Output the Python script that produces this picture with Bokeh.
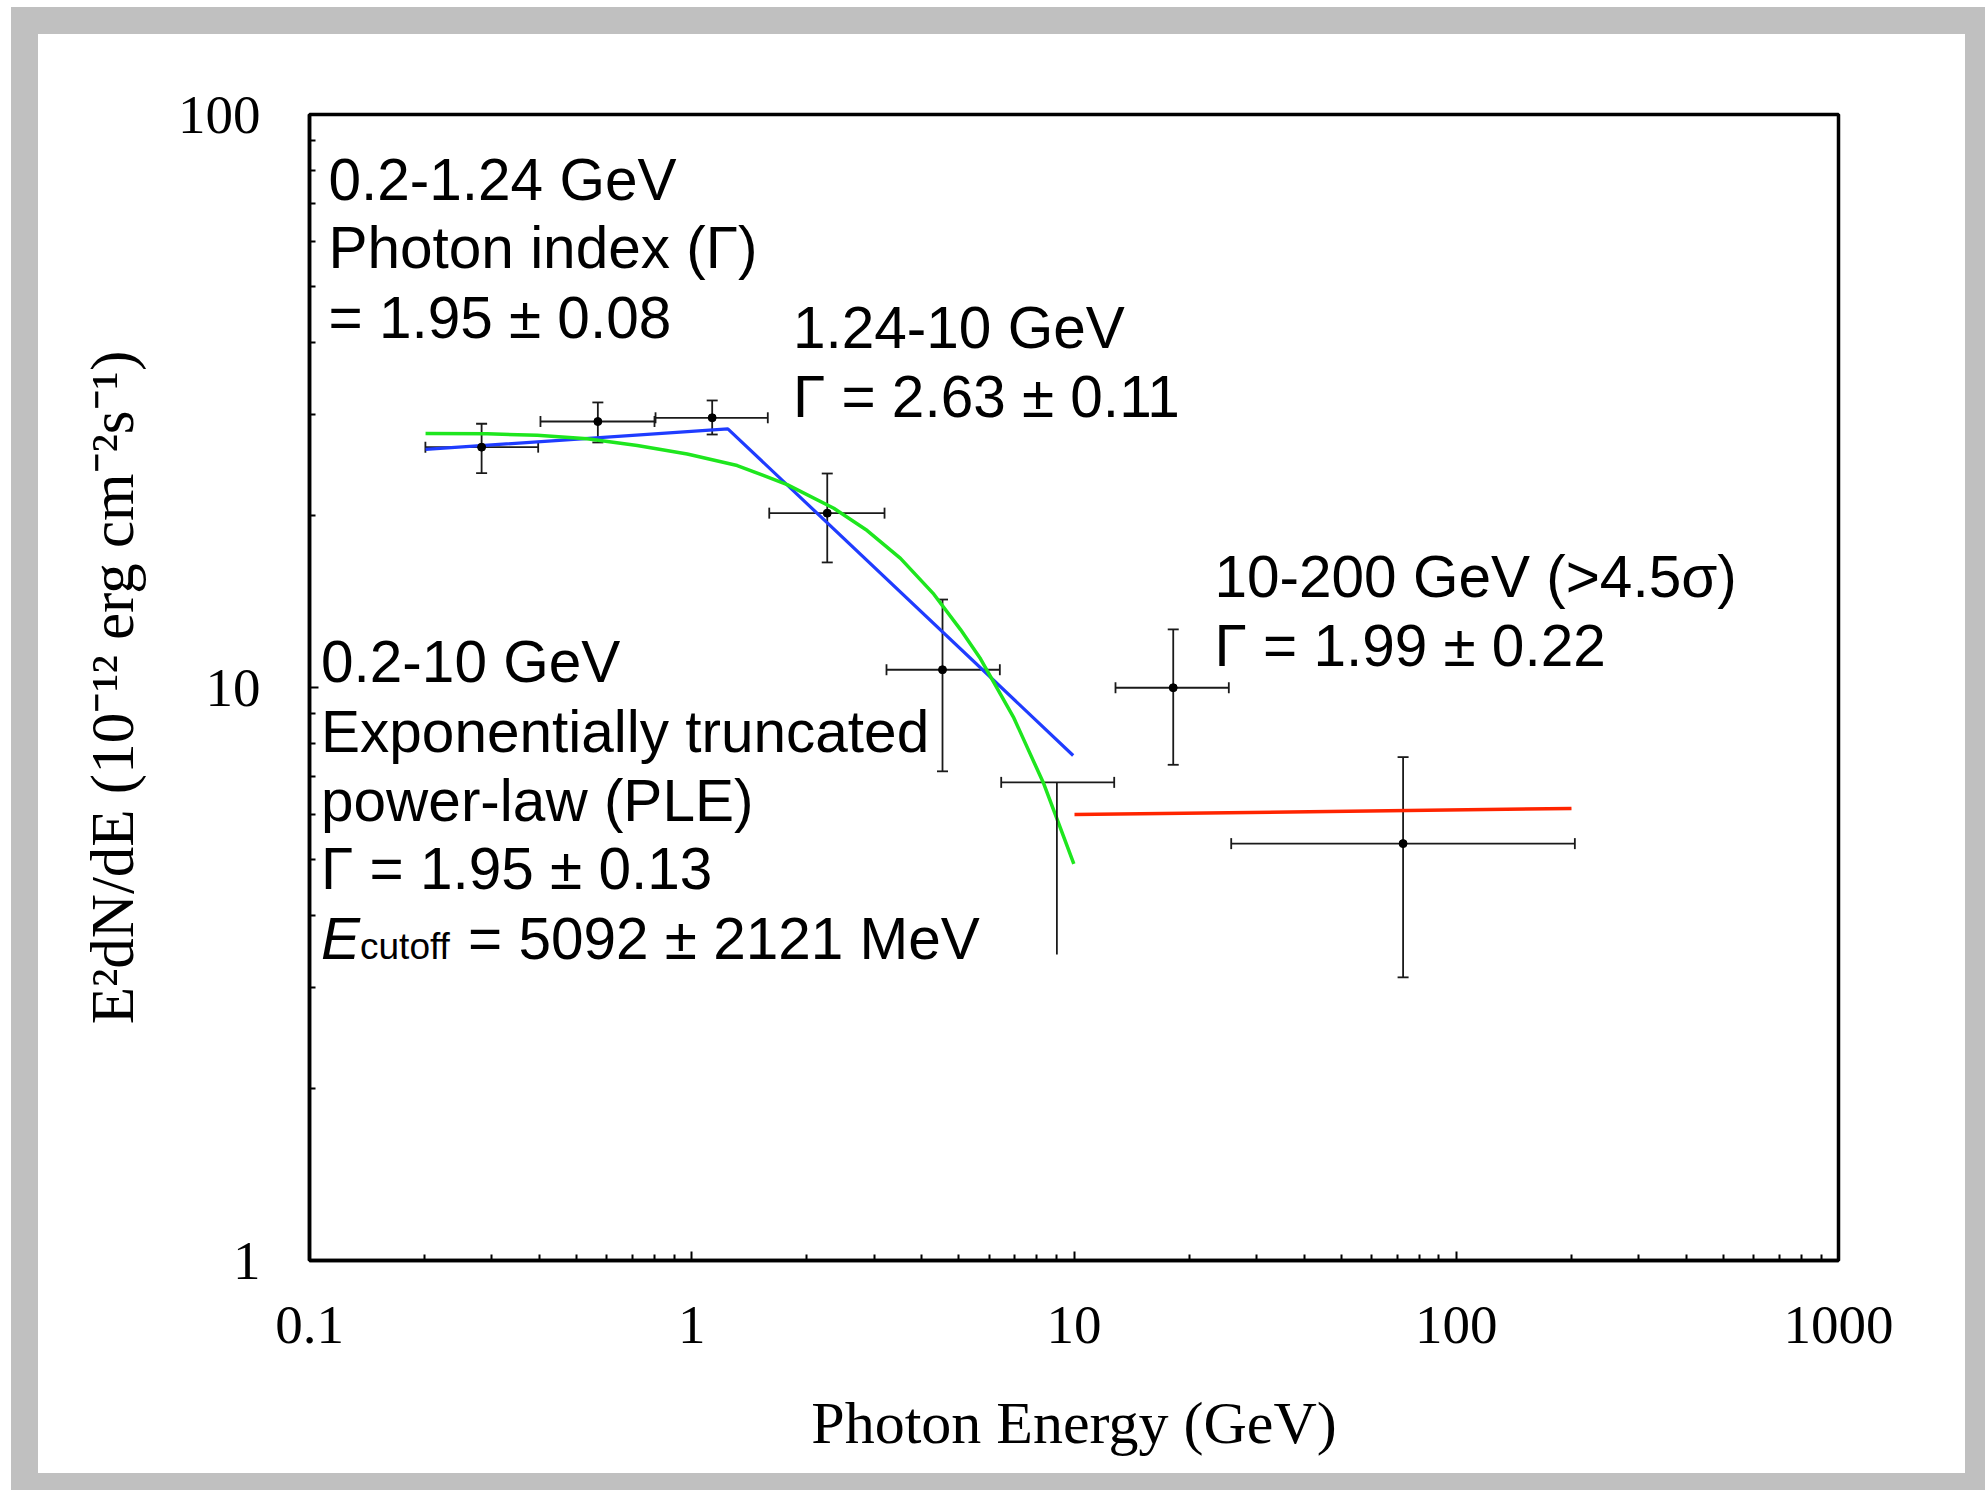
from bokeh.plotting import figure
from bokeh.models import (FixedTicker, Whisker, TeeHead, ColumnDataSource,
                          Range1d, CustomJSTickFormatter)
from bokeh.core.properties import value
from bokeh.embed import file_html
from bokeh.resources import INLINE

# ---------------- data ----------------
bin_center = [0.282, 0.568, 1.131, 2.262, 4.529, 9.02, 18.18, 72.6]
bin_low    = [0.201, 0.402, 0.804, 1.595, 3.232, 6.45, 12.84, 25.78]
bin_high   = [0.3965, 0.799, 1.581, 3.194, 6.397, 12.74, 25.41, 204.3]
flux       = [26.27, 29.12, 29.56, 20.15, 10.74, 6.83, 9.99, 5.34]
flux_low   = [23.66, 26.77, 27.64, 16.53, 7.14, 3.42, 7.33, 3.12]
flux_high  = [28.86, 31.44, 31.69, 23.63, 14.24, 6.83, 12.63, 7.56]
has_dot    = [True, True, True, True, True, False, True, True]

# broken power law (blue)
bpl_energy = [0.2012, 1.243, 9.95]
bpl_flux   = [26.03, 28.28, 7.61]

# exponentially truncated power law (green)
ple_energy = [0.2012, 0.2916, 0.3942, 0.5326, 0.7201, 0.973, 1.315, 1.777, 2.353,
              2.877, 3.516, 4.298, 5.048, 5.694, 6.961, 8.337, 9.04, 9.99]
ple_flux   = [27.76, 27.72, 27.56, 27.17, 26.45, 25.55, 24.40, 22.60, 20.55,
              18.79, 16.80, 14.55, 12.62, 11.22, 8.85, 6.79, 5.88, 4.924]

# 10-200 GeV power law (red)
hi_energy = [10.03, 200.2]
hi_flux   = [6.00, 6.15]

x_ticks = [0.1, 1, 10, 100, 1000]
y_ticks = [1, 10, 100]
x_minor = [m * 10.0 ** e for e in range(-1, 3) for m in range(2, 10)]
y_minor = [m * 10.0 ** e for e in range(0, 2) for m in range(2, 10)]

# ---------------- figure ----------------
# outer box (incl. 27px grey border) 1981 x 1493, placed at (11, 7)
W, H = 1981, 1493
FL, FR, FT, FB = 271, 181, 80, 267

p = figure(width=W, height=H, x_axis_type="log", y_axis_type="log",
           x_range=Range1d(0.1, 1000), y_range=Range1d(1, 100),
           min_border_left=FL, min_border_right=FR, min_border_top=FT, min_border_bottom=FB,
           output_backend="svg", toolbar_location=None)
p.styles = {"border": "27px solid #c0c0c0", "margin-left": "11px", "margin-top": "7px"}
p.background_fill_color = "white"
p.border_fill_color = "white"
p.outline_line_color = "black"
p.outline_line_width = 3.5
p.xgrid.visible = False
p.ygrid.visible = False

p.xaxis.ticker = FixedTicker(ticks=x_ticks, minor_ticks=x_minor)
p.yaxis.ticker = FixedTicker(ticks=y_ticks, minor_ticks=y_minor)
p.xaxis.formatter = CustomJSTickFormatter(code="return String(tick);")
p.yaxis.formatter = CustomJSTickFormatter(code="return String(tick);")

for ax in (p.xaxis[0], p.yaxis[0]):
    ax.axis_line_width = 3.5
    ax.axis_line_color = "black"
    ax.major_tick_in = 9
    ax.major_tick_out = 0
    ax.minor_tick_in = 6
    ax.minor_tick_out = 0
    ax.major_tick_line_width = 2
    ax.minor_tick_line_width = 2
    ax.major_tick_line_color = "black"
    ax.minor_tick_line_color = "black"
    ax.major_label_text_font = "Liberation Serif"
    ax.major_label_text_font_size = "55px"
    ax.major_label_text_color = "black"
    ax.axis_label_text_font = "Liberation Serif"
    ax.axis_label_text_font_style = "normal"
    ax.axis_label_text_color = "black"

p.xaxis.axis_label = "Photon Energy (GeV)"
p.yaxis.axis_label = "E\u00b2dN/dE (10\u207b\u00b9\u00b2 erg cm\u207b\u00b2s\u207b\u00b9)"
p.xaxis.axis_label_text_font_size = "60px"
p.yaxis.axis_label_text_font_size = "61px"
p.xaxis.major_label_standoff = 46
p.yaxis.major_label_standoff = 49
p.xaxis.axis_label_standoff = 44
p.yaxis.axis_label_standoff = 29

# ---------------- model curves ----------------
p.line(bpl_energy, bpl_flux, line_color="#1f3cff", line_width=3.2)
p.line(ple_energy, ple_flux, line_color="#1ee61e", line_width=3.5, line_join="round")
p.line(hi_energy, hi_flux, line_color="#ff2400", line_width=3.5)

# ---------------- data points with error bars ----------------
idx = [i for i in range(len(bin_center)) if has_dot[i]]
idx_nodot = [i for i in range(len(bin_center)) if not has_dot[i]]

src_all = ColumnDataSource(dict(x=bin_center, y=flux, xlo=bin_low, xhi=bin_high))
src_dot = ColumnDataSource(dict(x=[bin_center[i] for i in idx], y=[flux[i] for i in idx],
                                ylo=[flux_low[i] for i in idx], yhi=[flux_high[i] for i in idx]))

ebar = "#1a1a1a"
p.add_layout(Whisker(source=src_all, base="y", lower="xlo", upper="xhi", dimension="width",
                     line_color=ebar, line_width=1.8,
                     lower_head=TeeHead(size=11, line_color=ebar, line_width=1.8),
                     upper_head=TeeHead(size=11, line_color=ebar, line_width=1.8)))
p.add_layout(Whisker(source=src_dot, base="x", lower="ylo", upper="yhi", dimension="height",
                     line_color=ebar, line_width=1.8,
                     lower_head=TeeHead(size=11, line_color=ebar, line_width=1.8),
                     upper_head=TeeHead(size=11, line_color=ebar, line_width=1.8)))
p.segment(x0=[bin_center[i] for i in idx_nodot], y0=[flux[i] for i in idx_nodot],
          x1=[bin_center[i] for i in idx_nodot], y1=[flux_low[i] for i in idx_nodot],
          line_color=ebar, line_width=1.8)
p.scatter("x", "y", source=src_dot, size=8, color="black")

# ---------------- annotation texts ----------------
sans = value("Liberation Sans")
fs = "58.5px"
lines = [
    (0.1121, 77.0, "0.2-1.24 GeV"),
    (0.1121, 58.61, "Photon index (\u0393)"),
    (0.1121, 44.23, "= 1.95 \u00b1 0.08"),
    (1.840, 42.49, "1.24-10 GeV"),
    (1.840, 32.20, "\u0393 = 2.63 \u00b1 0.11"),
    (0.1072, 11.10, "0.2-10 GeV"),
    (0.1072, 8.393, "Exponentially truncated"),
    (0.1072, 6.351, "power-law (PLE)"),
    (0.1072, 4.825, "\u0393 = 1.95 \u00b1 0.13"),
    (23.31, 15.65, "10-200 GeV (>4.5\u03c3)"),
    (23.31, 11.86, "\u0393 = 1.99 \u00b1 0.22"),
]
p.text(x=[l[0] for l in lines], y=[l[1] for l in lines], text=[l[2] for l in lines],
       text_font=sans, text_font_size=fs, text_color="black",
       text_align="left", text_baseline="alphabetic")
# E_cutoff line
p.text(x=[0.1072], y=[3.648], text=["E"], text_font=sans, text_font_size=fs,
       text_font_style="italic", text_align="left", text_baseline="alphabetic", text_color="black")
p.text(x=[0.1072], y=[3.648], text=["cutoff"], x_offset=39, y_offset=8, text_font=sans,
       text_font_size="37px", text_align="left", text_baseline="alphabetic", text_color="black")
p.text(x=[0.1072], y=[3.648], text=["= 5092 \u00b1 2121 MeV"], x_offset=147, text_font=sans,
       text_font_size=fs, text_align="left", text_baseline="alphabetic", text_color="black")

open("out.html", "w").write(file_html(p, INLINE))
